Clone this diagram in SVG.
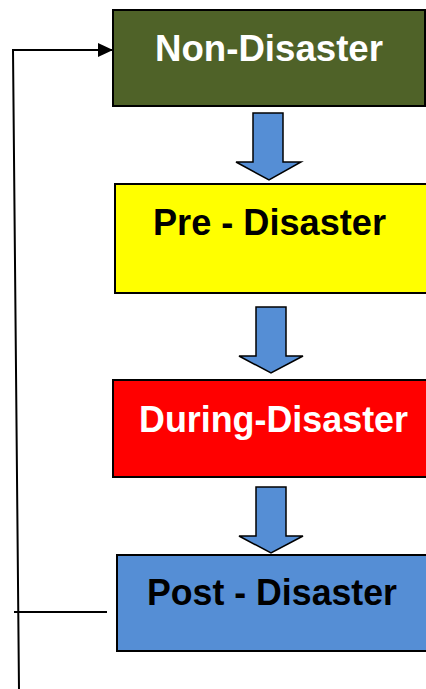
<svg xmlns="http://www.w3.org/2000/svg" width="426" height="689" viewBox="0 0 426 689">
<defs>
<style>
.box{stroke:#000;stroke-width:2}
.lbl{font-family:"Liberation Sans",Arial,sans-serif;font-weight:bold;font-size:36px}
.blk{fill:#558ED5;stroke:#000;stroke-width:1.5;stroke-linejoin:miter}
.ln{stroke:#000;stroke-width:2;fill:none}
</style>
<marker id="ah" markerWidth="15" markerHeight="14" refX="15" refY="7" orient="auto" markerUnits="userSpaceOnUse">
<path d="M0,0 L15,7 L0,14 Z" fill="#000"/>
</marker>
</defs>
<rect width="426" height="689" fill="#fff"/>
<g id="connectors">
<path class="blk" d="M253,113 H283 V162 H301 L269,180 L236,162 H253 Z"/>
<path class="blk" d="M256,307 H286 V356 H303 L271,373 L239,356 H256 Z"/>
<path class="blk" d="M256,487 H286 V536 H303 L271,553 L239,536 H256 Z"/>
<line class="ln" x1="14" y1="612" x2="107" y2="612"/>
<path class="ln" d="M19,689 L13,50 L113,50" marker-end="url(#ah)"/>
</g>
<g id="non-disaster">
<rect class="box" x="113" y="10" width="312" height="96" fill="#4F6228"/>
<text class="lbl" x="155" y="61" fill="#fff" textLength="228" lengthAdjust="spacingAndGlyphs">Non-Disaster</text>
</g>
<g id="pre-disaster">
<rect class="box" x="115" y="184" width="315" height="109" fill="#FFFF00"/>
<text class="lbl" x="153" y="235" fill="#000" textLength="233" lengthAdjust="spacingAndGlyphs">Pre - Disaster</text>
</g>
<g id="during-disaster">
<rect class="box" x="113" y="380" width="317" height="97" fill="#FF0000"/>
<text class="lbl" x="139" y="432" fill="#fff" textLength="269" lengthAdjust="spacingAndGlyphs">During-Disaster</text>
</g>
<g id="post-disaster">
<rect class="box" x="117" y="555" width="313" height="96" fill="#558ED5"/>
<text class="lbl" x="147" y="605" fill="#000" textLength="250" lengthAdjust="spacingAndGlyphs">Post - Disaster</text>
</g>
</svg>
